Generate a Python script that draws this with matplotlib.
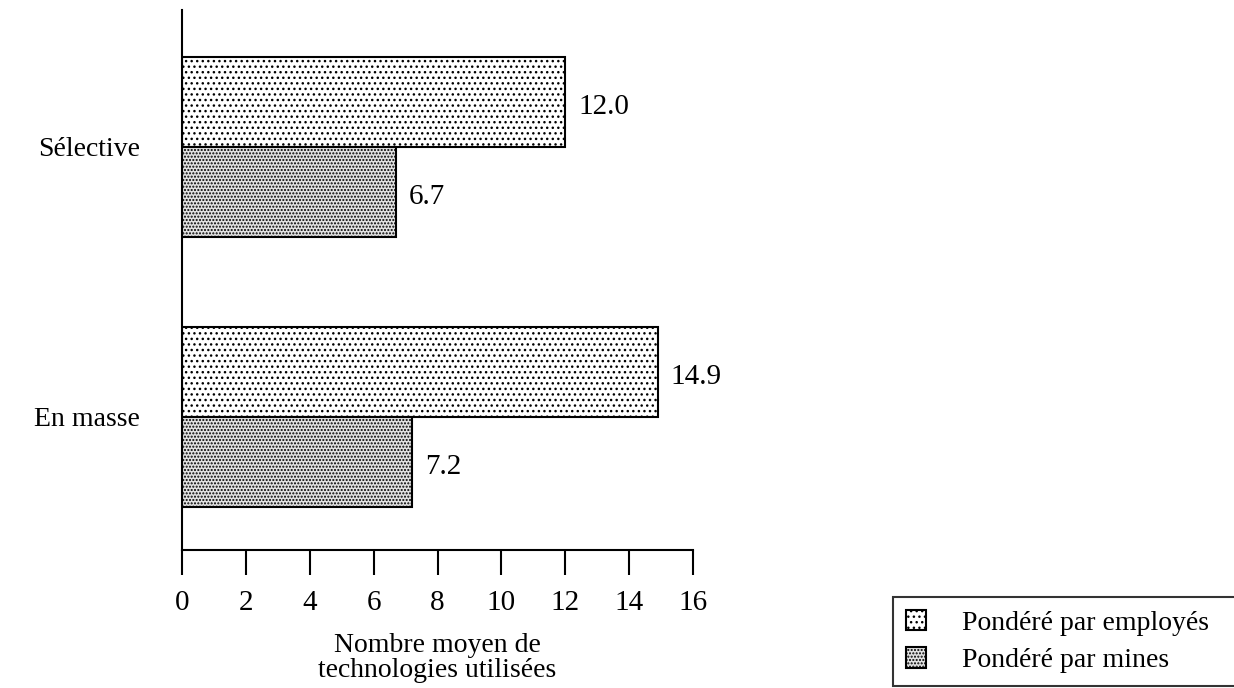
import matplotlib
matplotlib.use('Agg')
import matplotlib.pyplot as plt
import numpy as np

# data
categories = ['Sélective', 'En masse']
employes = [12.0, 14.9]
mines = [6.7, 7.2]
series_names = ['Pondéré par employés', 'Pondéré par mines']
xticks = [0, 2, 4, 6, 8, 10, 12, 14, 16]

plt.rcParams['font.family'] = ['Liberation Serif', 'DejaVu Serif']
plt.rcParams['hatch.linewidth'] = 1.0

FS = 20

fig = plt.figure(figsize=(12.34, 6.88), dpi=100)
ax = fig.add_axes([0.1475, 0.2006, 0.4141, 0.785])

pos = np.array([1.0, 0.0])
h = 1.0 / 3

b1 = ax.barh(pos + h / 2, employes, height=h, facecolor='white', edgecolor='black',
             hatch='...', linewidth=1.5, label=series_names[0])
b2 = ax.barh(pos - h / 2, mines, height=h, facecolor='#e2e2e2', edgecolor='black',
             hatch='.....', linewidth=1.5, label=series_names[1])

for bars, vals in ((b1, employes), (b2, mines)):
    for r, v in zip(bars, vals):
        ax.text(v + 0.4, r.get_y() + r.get_height() / 2 - 0.02, '%.1f' % v,
                va='center', ha='left', fontsize=FS + 1)

ax.set_xlim(0, 16)
ax.set_ylim(-0.493, 1.507)
ax.set_xticks(xticks)
ax.set_xticklabels([str(t) for t in xticks], fontsize=FS + 1)
ax.set_yticks(pos)
ax.set_yticklabels(categories, fontsize=FS)
ax.tick_params(axis='y', length=0, pad=30)
ax.tick_params(axis='x', direction='out', length=18, width=1.5, pad=11)

for s in ('top', 'right'):
    ax.spines[s].set_visible(False)
for s in ('left', 'bottom'):
    ax.spines[s].set_linewidth(1.5)

ax.set_xlabel('Nombre moyen de\ntechnologies utilisées', fontsize=FS, labelpad=12,
              linespacing=1.0)

# legend box runs off the right edge like the scanned original
leg = fig.legend(loc='upper left', bbox_to_anchor=(0.7237, -0.01, 0.4, 0.142),
                 mode='expand', fontsize=FS, frameon=True, fancybox=False,
                 edgecolor='black', handlelength=0.75, handleheight=0.75,
                 handletextpad=1.3, borderpad=0.45, labelspacing=0.42,
                 borderaxespad=0)
leg.get_frame().set_linewidth(1.5)

fig.savefig('out.png', dpi=100)
